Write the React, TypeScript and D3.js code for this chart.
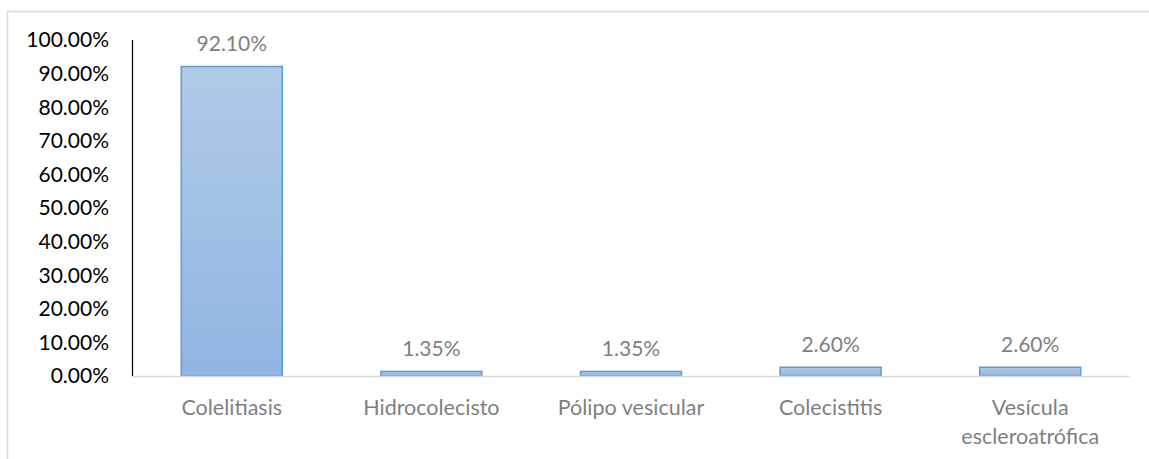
import React from "react";
import * as d3 from "d3";

const categories = ["Colelitiasis", "Hidrocolecisto", "Pólipo vesicular", "Colecistitis", "Vesícula escleroatrófica"];
const values = [92.1, 1.35, 1.35, 2.6, 2.6];
const yTicks = [0, 10, 20, 30, 40, 50, 60, 70, 80, 90, 100];

const W = 1149;
const H = 459;
const M = { left: 132, right: 1130, top: 40, bottom: 376 };

export default function App() {
  const x = d3.scaleBand<string>().domain(categories).range([M.left, M.right]).paddingInner(0.494).paddingOuter(0.247);
  const y = d3.scaleLinear().domain([0, 100]).range([M.bottom, M.top]);
  const font = "Lato, 'Open Sans', sans-serif";
  const splitLabel = (c: string) => (c === "Vesícula escleroatrófica" ? ["Vesícula", "escleroatrófica"] : [c]);
  return (
    <div style={{ position: "absolute", left: 0, top: 0 }}>
      <svg width={W} height={H} style={{ display: "block" }}>
        <defs>
          <linearGradient id="barGrad" x1="0" y1="0" x2="0" y2="1">
            <stop offset="0%" stopColor="#b1cbe9" />
            <stop offset="100%" stopColor="#90b5e2" />
          </linearGradient>
        </defs>
        <rect x={0} y={0} width={W} height={H} fill="#ffffff" />
        <line x1={7.5} y1={11} x2={7.5} y2={H} stroke="#d9d9d9" strokeWidth={1.5} />
        <line x1={7.5} y1={11.5} x2={W} y2={11.5} stroke="#d9d9d9" strokeWidth={1.5} />
        {yTicks.map((t) => (
          <text key={t} x={109} y={y(t)} dy="0.35em" textAnchor="end" fontFamily={font} fontSize={21} fill="#000000">
            {t.toFixed(2)}%
          </text>
        ))}
        {categories.map((c, i) => {
          const bx = x(c)!;
          const bw = x.bandwidth();
          const top = y(values[i]);
          return (
            <g key={c}>
              <rect x={bx} y={top} width={bw} height={y(0) - top} fill="url(#barGrad)" stroke="#5b9bd5" strokeWidth={1.5} />
              <text x={bx + bw / 2} y={top - 23} dy="0.35em" textAnchor="middle" fontFamily={font} fontSize={21} fill="#808080">
                {values[i].toFixed(2)}%
              </text>
              {splitLabel(c).map((l, j) => (
                <text key={j} x={bx + bw / 2} y={407 + j * 29} dy="0.35em" textAnchor="middle" fontFamily={font} fontSize={21.5} fill="#7f7f7f">
                  {l}
                </text>
              ))}
            </g>
          );
        })}
        <line x1={M.left} y1={M.bottom + 0.5} x2={M.right} y2={M.bottom + 0.5} stroke="#d9d9d9" strokeWidth={1.5} />
        <line x1={M.left + 0.5} y1={M.top} x2={M.left + 0.5} y2={M.bottom} stroke="#000000" strokeWidth={1.2} />
      </svg>
    </div>
  );
}
